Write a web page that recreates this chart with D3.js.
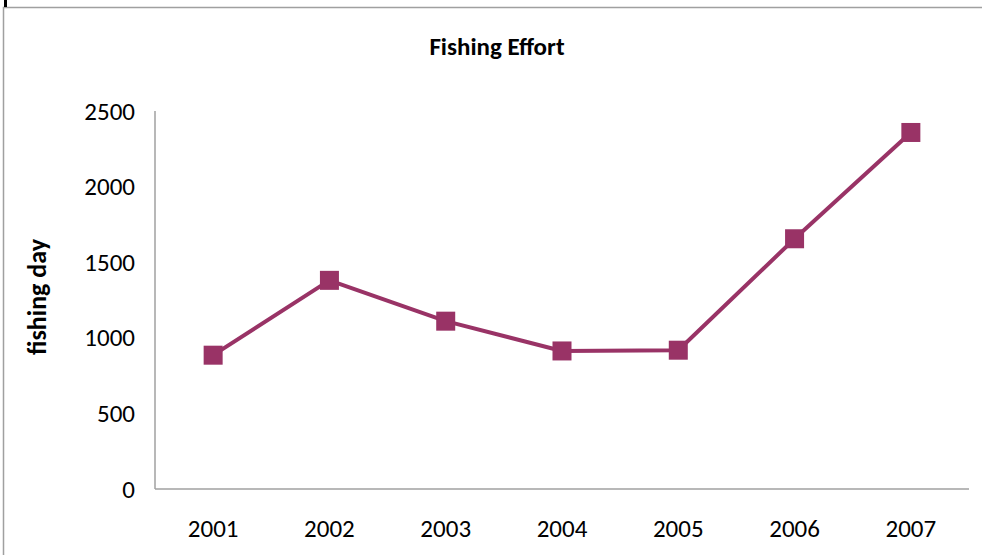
<!DOCTYPE html>
<html>
<head>
<meta charset="utf-8">
<script src="https://cdn.jsdelivr.net/npm/d3@7"></script>
<style>
  html, body { margin: 0; padding: 0; background: #fff; }
  svg { display: block; }
</style>
</head>
<body>
<svg id="chart" width="982" height="555"></svg>
<script>
const years = ["2001", "2002", "2003", "2004", "2005", "2006", "2007"];
const fishingDays = [885, 1380, 1110, 913, 918, 1655, 2358];
const yTicks = [0, 500, 1000, 1500, 2000, 2500];
const titleText = "Fishing Effort";
const yLabelText = "fishing day";

(function () {
const svg = d3.select("#chart");
const font = "Carlito, Calibri, 'Open Sans', 'Noto Sans', sans-serif";

// outer chart frame
svg.append("rect").attr("x", 3.5).attr("y", 7.5).attr("width", 1000).attr("height", 600)
  .attr("fill", "none").attr("stroke", "#a0a0a0").attr("stroke-width", 1.5);
svg.append("rect").attr("x", 4).attr("y", 0).attr("width", 3).attr("height", 7).attr("fill", "#000");

const pLeft = 155, pRight = 969, pTop = 111, pBottom = 489;

const x = d3.scaleBand().domain(years).range([pLeft, pRight]);
const y = d3.scaleLinear().domain([0, 2500]).range([pBottom, pTop]);

// axes
const xAxis = svg.append("g").attr("transform", `translate(0,${pBottom})`)
  .call(d3.axisBottom(x).tickSize(0).tickPadding(30));
const yAxis = svg.append("g").attr("transform", `translate(${pLeft},0)`)
  .call(d3.axisLeft(y).tickValues(yTicks).tickSize(0).tickPadding(20).tickFormat(d3.format("d")));

[xAxis, yAxis].forEach(g => {
  g.select(".domain").attr("stroke", "#a0a0a0").attr("stroke-width", 1.5);
  g.selectAll("text").attr("font-family", font).attr("font-size", 25).attr("fill", "#000");
});
yAxis.select(".domain").attr("d", `M0,${pBottom}V${pTop}`);
xAxis.select(".domain").attr("d", `M${pLeft},0H${pRight}`);

// line
const line = d3.line()
  .x((d, i) => x(years[i]) + x.bandwidth() / 2)
  .y(d => y(d));
svg.append("path").datum(fishingDays)
  .attr("d", line).attr("fill", "none")
  .attr("stroke", "#993366").attr("stroke-width", 4).attr("stroke-linejoin", "round");

// markers
const ms = 19;
svg.selectAll("rect.marker").data(fishingDays).enter().append("rect")
  .attr("class", "marker")
  .attr("x", (d, i) => x(years[i]) + x.bandwidth() / 2 - ms / 2)
  .attr("y", d => y(d) - ms / 2)
  .attr("width", ms).attr("height", ms)
  .attr("fill", "#993366");

// title
svg.append("text").attr("x", 497).attr("y", 55).attr("text-anchor", "middle")
  .attr("font-family", font).attr("font-weight", "bold").attr("font-size", 25)
  .text(titleText);

// y label
svg.append("text")
  .attr("transform", `translate(46,297) rotate(-90)`)
  .attr("text-anchor", "middle")
  .attr("font-family", font).attr("font-weight", "bold").attr("font-size", 26)
  .text(yLabelText);
})();
</script>
</body>
</html>
